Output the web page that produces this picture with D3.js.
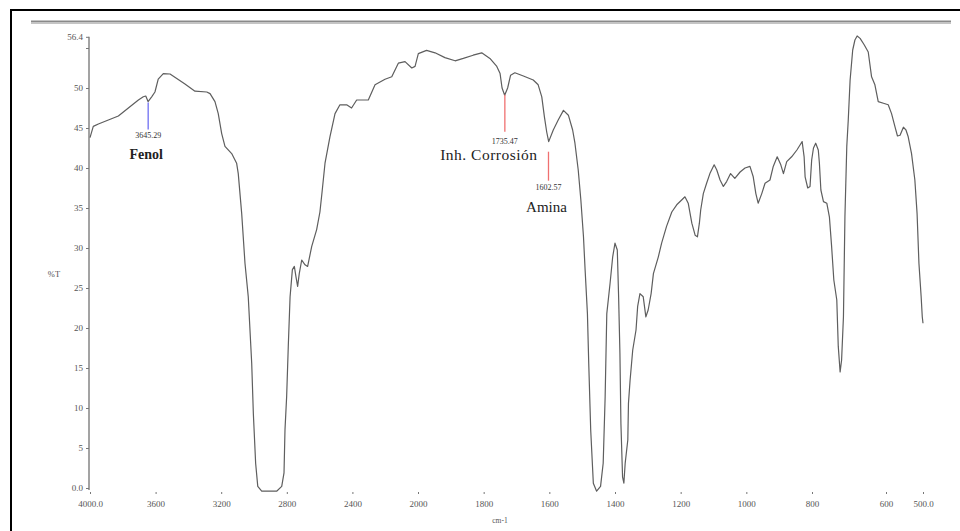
<!DOCTYPE html>
<html>
<head>
<meta charset="utf-8">
<script src="https://cdn.jsdelivr.net/npm/d3@7"></script>
<style>
  html, body { margin: 0; padding: 0; background: #fff; }
  svg { display: block; }
</style>
</head>
<body>
<div id="chart"></div>
<script>
// ---- Data ----
const wavenumbers = [
  4000, 3980, 3949, 3888, 3827, 3766, 3705, 3675, 3660, 3646, 3624, 3604, 3584, 3553, 3512, 3471,
  3421, 3360, 3288, 3268, 3238, 3218, 3197, 3177, 3136, 3106, 3096, 3075, 3055, 3035, 3014, 3004,
  2990, 2977, 2953, 2862, 2831, 2817, 2811, 2801, 2791, 2780, 2766, 2754, 2744, 2734, 2724, 2709,
  2689, 2673, 2648, 2618, 2598, 2585, 2567, 2537, 2506, 2476, 2435, 2405, 2374, 2303, 2262, 2201,
  2160, 2120, 2079, 2038, 2018, 1999, 1974, 1948, 1918, 1887, 1862, 1832, 1806, 1781, 1760, 1750,
  1744, 1736, 1727, 1718, 1705, 1679, 1649, 1634, 1623, 1615, 1608, 1602, 1588, 1573, 1557, 1542,
  1529, 1522, 1512, 1504, 1496, 1491, 1484, 1480, 1474, 1466, 1456, 1444, 1436, 1430, 1425, 1415,
  1407, 1400, 1393, 1389, 1385, 1382, 1377, 1373, 1369, 1361, 1359, 1354, 1346, 1336, 1331, 1324,
  1314, 1306, 1299, 1290, 1283, 1268, 1258, 1243, 1227, 1212, 1197, 1187, 1177, 1166, 1156, 1149,
  1143, 1139, 1131, 1121, 1111, 1098, 1090, 1080, 1070, 1060, 1048, 1035, 1019, 1004, 989, 979,
  971, 964, 953, 943, 928, 918, 906, 895, 887, 877, 862, 846, 836, 830, 824, 821,
  813, 806, 801, 796, 790, 783, 780, 776, 769, 760, 753, 747, 741, 733, 729, 724,
  720, 715, 711, 706, 702, 697, 690, 684, 678, 670, 659, 648, 639, 630, 621, 607,
  594, 585, 576, 569, 562, 553, 546, 540, 531, 522, 516, 511, 505, 502, 500
];
const transmittance = [
  43.8, 45.2, 45.5, 46.0, 46.5, 47.5, 48.5, 48.9, 49.0, 48.3, 48.9, 49.5, 51.1, 51.8, 51.75, 51.2,
  50.5, 49.6, 49.5, 49.3, 48.3, 46.8, 44.3, 42.7, 41.8, 40.6, 39.3, 34.3, 28.1, 23.9, 15.6, 9.3,
  3.1, 0.2, -0.4, -0.4, 0.2, 1.9, 7.3, 11.4, 17.7, 23.9, 27.3, 27.7, 26.4, 25.2, 26.8, 28.5,
  27.9, 27.7, 30.2, 32.3, 34.5, 37.0, 40.6, 43.9, 46.8, 47.9, 47.9, 47.5, 48.5, 48.5, 50.4, 51.1,
  51.4, 53.1, 53.3, 52.5, 52.7, 54.3, 54.7, 54.4, 53.8, 53.4, 53.7, 54.1, 54.4, 53.7, 52.7, 51.8,
  50.0, 49.1, 50.0, 51.6, 51.9, 51.5, 51.0, 50.4, 48.9, 46.4, 44.5, 43.3, 44.75, 46.0, 47.2, 46.6,
  44.75, 43.1, 39.75, 36.0, 31.4, 27.25, 21.8, 15.6, 7.25, 0.6, -0.4, 0.2, 3.1, 11.4, 21.8, 25.6,
  28.9, 30.6, 29.75, 23.9, 16.8, 8.1, 1.4, 0.6, 3.1, 6.0, 10.6, 13.5, 17.25, 19.75, 22.7, 24.3,
  23.9, 21.4, 22.25, 24.3, 26.8, 28.9, 30.6, 32.7, 34.5, 35.4, 36.0, 36.4, 35.6, 33.1, 31.6, 31.4,
  33.1, 34.75, 36.8, 38.1, 39.3, 40.4, 39.75, 38.5, 37.7, 38.3, 39.3, 38.7, 39.5, 40.0, 40.2, 38.9,
  36.8, 35.6, 36.8, 38.1, 38.5, 40.2, 41.4, 40.4, 39.3, 40.8, 41.4, 42.25, 42.9, 43.3, 41.4, 38.9,
  37.5, 37.7, 41.0, 42.5, 43.1, 42.25, 40.6, 37.25, 35.8, 35.6, 33.9, 30.2, 26.0, 23.5, 17.7, 14.5,
  16.0, 21.4, 33.9, 42.7, 46.0, 51.0, 54.75, 56.0, 56.5, 56.2, 55.4, 54.5, 51.4, 50.4, 48.3, 48.1,
  47.9, 46.8, 45.2, 44.0, 44.1, 45.1, 44.75, 43.9, 41.8, 38.5, 34.3, 28.1, 23.9, 21.4, 20.6
];

const xTickValues = [4000, 3600, 3200, 2800, 2400, 2000, 1800, 1600, 1400, 1200, 1000, 800, 600, 500];
const xTickLabels = ["4000.0", "3600", "3200", "2800", "2400", "2000", "1800", "1600", "1400", "1200", "1000", "800", "600", "500.0"];
const yTickValues = [0, 5, 10, 15, 20, 25, 30, 35, 40, 45, 50, 55, 56.4];
const yTickLabels = ["0.0", "5", "10", "15", "20", "25", "30", "35", "40", "45", "50", "", "56.4"];

const peakWavenumbers = [3645.29, 1735.47, 1602.57];
const peakValueLabels = ["3645.29", "1735.47", "1602.57"];
const peakNames = ["Fenol", "Inh. Corrosión", "Amina"];
const peakColors = ["#6f6ff2", "#f07070", "#f07070"];

// ---- Layout ----
const W = 960, H = 531;
const svg = d3.select("#chart").append("svg").attr("width", W).attr("height", H);

const x = d3.scaleLinear().domain([4000, 2000, 800, 500]).range([90, 418, 812, 923]);
const y = d3.scaleLinear().domain([0, 56.4]).range([488, 36.8]);

// frame
svg.append("line").attr("x1", 11).attr("x2", 11).attr("y1", 10).attr("y2", H).attr("stroke", "#000").attr("stroke-width", 2);
svg.append("line").attr("x1", 10).attr("x2", W).attr("y1", 10).attr("y2", 10).attr("stroke", "#000").attr("stroke-width", 2);
// gray header rule
svg.append("rect").attr("x", 31).attr("y", 20.5).attr("width", 920).attr("height", 2).attr("fill", "#8a8a8a");
svg.append("rect").attr("x", 31).attr("y", 22.5).attr("width", 920).attr("height", 1.5).attr("fill", "#c4c4c4");

const serif = "'Liberation Serif', 'DejaVu Serif', serif";

// y axis
const yAxis = d3.axisLeft(y).tickValues(yTickValues).tickSize(3)
  .tickFormat((d, i) => yTickLabels[i]);
const gy = svg.append("g").attr("transform", "translate(89,0)").call(yAxis);
gy.select(".domain").attr("stroke", "#8c8c8c").attr("stroke-width", 1.6)
  .attr("d", `M0,${y(56.4)}V${y(0) + 2}`);
gy.selectAll(".tick line").attr("stroke", "#777");
gy.selectAll(".tick text").attr("font-family", serif).attr("font-size", 9).attr("fill", "#555").attr("x", -6);

// x axis (ticks only)
const xAxis = d3.axisBottom(x).tickValues(xTickValues).tickSize(2)
  .tickFormat((d, i) => xTickLabels[i]);
const gx = svg.append("g").attr("transform", "translate(0,492)").call(xAxis);
gx.select(".domain").remove();
gx.selectAll(".tick line").attr("stroke", "#777");
gx.selectAll(".tick text").attr("font-family", serif).attr("font-size", 9).attr("fill", "#555").attr("y", 9);

// axis titles
svg.append("text").attr("x", 54).attr("y", 277).attr("text-anchor", "middle")
  .attr("font-family", serif).attr("font-size", 8.5).attr("fill", "#555").text("%T");
svg.append("text").attr("x", 500).attr("y", 523).attr("text-anchor", "middle")
  .attr("font-family", serif).attr("font-size", 7.5).attr("fill", "#555").text("cm-1");

// spectrum
const pts = wavenumbers.map((w, i) => [w, transmittance[i]]);
const line = d3.line().x(d => x(d[0])).y(d => y(d[1]));
svg.append("path").datum(pts).attr("d", line)
  .attr("fill", "none").attr("stroke", "#5e5e5e").attr("stroke-width", 1.2).attr("stroke-linejoin", "round");

// annotations
const lineOffsets = [[1, 28], [0, 37], [11, 40]];
const numDy = [9, 12, 9];
const nameDy = [30, 28, 31];
const nameDx = [-2, -16, -2];
const nameSize = [14, 15.5, 15];
const nameSpacing = [0, 0.5, 0];
const nameWeight = ["bold", "normal", "normal"];
peakWavenumbers.forEach((w, i) => {
  // curve value at w by linear interpolation between neighbouring samples
  const k = wavenumbers.findIndex(v => v <= w);
  const w1 = wavenumbers[k - 1], w2 = wavenumbers[k];
  const t1 = transmittance[k - 1], t2 = transmittance[k];
  const tv = t1 + (t2 - t1) * (w1 - w) / (w1 - w2);
  const px = x(w);
  const yTop = y(tv) + lineOffsets[i][0];
  const yBot = yTop + lineOffsets[i][1] - lineOffsets[i][0];
  svg.append("line").attr("x1", px).attr("x2", px).attr("y1", yTop).attr("y2", yBot)
    .attr("stroke", peakColors[i]).attr("stroke-width", 1.3);
  svg.append("text").attr("x", px).attr("y", yBot + numDy[i]).attr("text-anchor", "middle")
    .attr("font-family", serif).attr("font-size", 8).attr("fill", "#333").text(peakValueLabels[i]);
  svg.append("text").attr("x", px + nameDx[i]).attr("y", yBot + nameDy[i]).attr("text-anchor", "middle")
    .attr("font-family", serif).attr("font-size", nameSize[i]).attr("font-weight", nameWeight[i])
    .attr("letter-spacing", nameSpacing[i])
    .attr("fill", "#222").text(peakNames[i]);
});
</script>
</body>
</html>
